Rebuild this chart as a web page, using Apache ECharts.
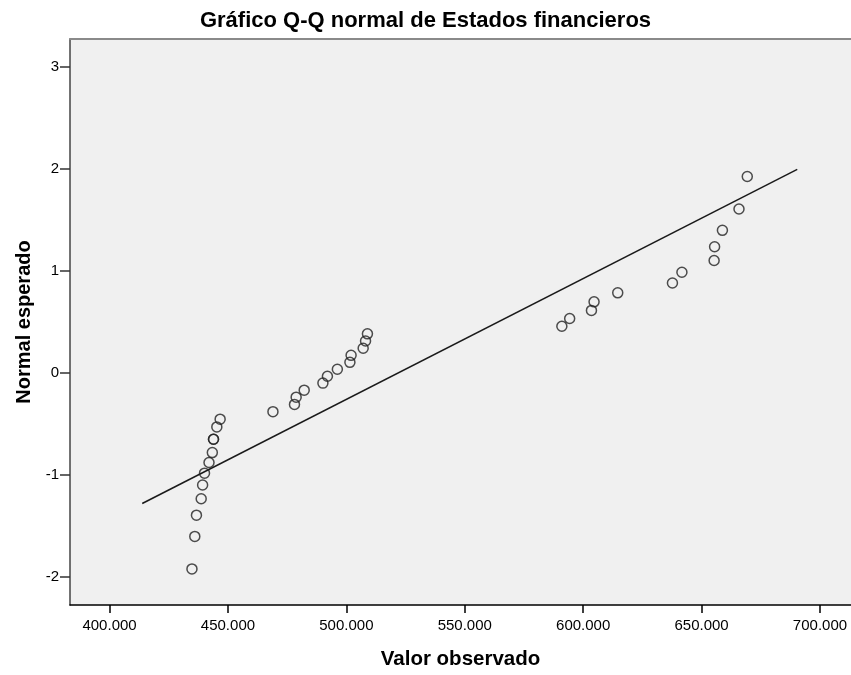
<!DOCTYPE html>
<html>
<head>
<meta charset="utf-8">
<script src="https://cdn.jsdelivr.net/npm/echarts@6/dist/echarts.min.js"></script>
<style>
html,body{margin:0;padding:0;background:#fff;}
#chart{width:851px;height:675px;}
</style>
</head>
<body>
<div id="chart"></div>
<script>
// Observed values (Estados financieros), sorted
var observed = [434800, 436000, 436700, 438700, 439300, 440100, 442000, 443400, 443900, 443900, 445300, 446700,
                469000, 478100, 478800, 482200, 490100, 492000, 496200, 501500, 502000, 507100, 508100, 508900,
                591000, 594300, 603500, 604600, 614600, 637700, 641700, 655300, 655500, 658800, 665800, 669300];
// Expected normal values
var expected = [-1.926, -1.607, -1.398, -1.237, -1.102, -0.986, -0.881, -0.784, -0.653, -0.653, -0.532, -0.456,
                -0.382, -0.311, -0.240, -0.171, -0.102, -0.034, 0.034, 0.102, 0.171, 0.240, 0.311, 0.382,
                0.456, 0.532, 0.612, 0.696, 0.784, 0.881, 0.986, 1.102, 1.237, 1.398, 1.607, 1.926];
// Reference line endpoints
var lineX = [413800, 690400];
var lineY = [-1.284, 1.997];
// Tick values
var xTicks = [400000, 450000, 500000, 550000, 600000, 650000, 700000];
var yTicks = [-2, -1, 0, 1, 2, 3];

var FONT = "'Liberation Sans', Arial, sans-serif";
function fmtThousands(v){
  return String(Math.round(v)).replace(/\B(?=(\d{3})+(?!\d))/g, '.');
}

var chart = echarts.init(document.getElementById('chart'));
var points = observed.map(function(x, i){ return [x, expected[i]]; });
var linePts = lineX.map(function(x, i){ return [x, lineY[i]]; });

chart.setOption({
  animation: false,
  backgroundColor: '#ffffff',
  title: {
    text: 'Gráfico Q-Q normal de Estados financieros',
    left: 'center',
    top: 5,
    textStyle: { fontFamily: FONT, fontSize: 22, fontWeight: 'bold', color: '#000' }
  },
  grid: {
    left: 70, top: 39, right: 0, bottom: 67,
    containLabel: false,
    show: true,
    backgroundColor: '#f0f0f0',
    borderWidth: 0
  },
  xAxis: [{
    type: 'value',
    min: 383300, max: 713100,
    name: 'Valor observado',
    nameLocation: 'middle',
    nameGap: 44,
    nameTextStyle: { fontFamily: FONT, fontSize: 20.5, fontWeight: 'bold', color: '#000' },
    axisLine: { show: true, onZero: false, lineStyle: { color: '#000', width: 1.5 } },
    axisTick: { show: true, length: 8, customValues: xTicks, lineStyle: { color: '#000', width: 1.5 } },
    axisLabel: { customValues: xTicks, formatter: fmtThousands, fontFamily: FONT, fontSize: 15, color: '#000', margin: 13 },
    splitLine: { show: false }
  }, {
    type: 'value',
    position: 'top',
    min: 383300, max: 713100,
    axisLine: { show: true, onZero: false, lineStyle: { color: '#8a8a8a', width: 2 } },
    axisTick: { show: false },
    axisLabel: { show: false },
    splitLine: { show: false }
  }],
  yAxis: {
    type: 'value',
    min: -2.28, max: 3.276,
    name: 'Normal esperado',
    nameLocation: 'middle',
    nameGap: 35,
    nameTextStyle: { fontFamily: FONT, fontSize: 20, fontWeight: 'bold', color: '#000' },
    axisLine: { show: true, onZero: false, lineStyle: { color: '#444', width: 1.5 } },
    axisTick: { show: true, length: 10, customValues: yTicks, lineStyle: { color: '#333', width: 1.5 } },
    axisLabel: { customValues: yTicks, fontFamily: FONT, fontSize: 15, color: '#000', margin: 11 },
    splitLine: { show: false }
  },
  series: [{
    type: 'line',
    data: linePts,
    symbol: 'none',
    lineStyle: { color: '#1a1a1a', width: 1.5 },
    silent: true,
    z: 2
  }, {
    type: 'scatter',
    data: points,
    symbol: 'circle',
    symbolSize: 10,
    itemStyle: { color: 'rgba(0,0,0,0)', borderColor: '#222', borderWidth: 1.5 },
    z: 3
  }]
});
</script>
</body>
</html>
